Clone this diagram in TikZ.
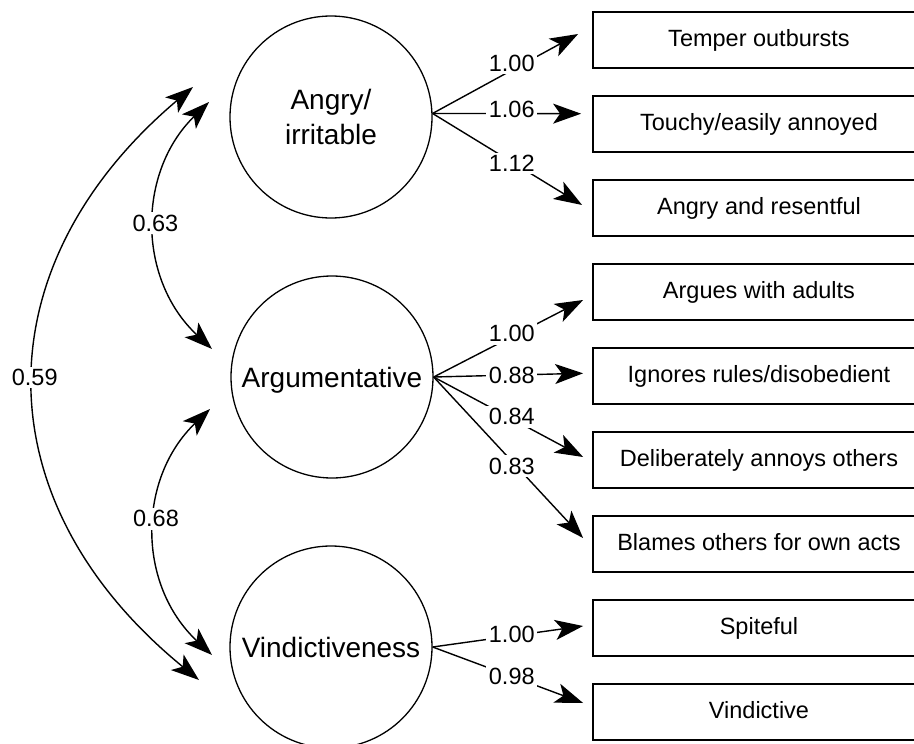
\documentclass[tikz,border=0pt]{standalone}
\usepackage{fontspec}
\setmainfont{Liberation Sans}
\usetikzlibrary{arrows.meta}
\begin{document}
\begin{tikzpicture}[x=1pt,y=-1pt,
  latent/.style={draw, circle, line width=1.3pt, minimum size=202pt, inner sep=0pt, font=\fontsize{28}{35}\selectfont, align=center},
  oneline/.style={text height=20pt, text depth=0pt},
  obs/.style={draw, rectangle, line width=1.8pt, minimum width=332pt, minimum height=56pt, inner sep=0pt, text height=14pt, text depth=0pt, font=\fontsize{23.5}{28}\selectfont},
  arr/.style={line width=1.4pt, -{Stealth[length=28pt,width=20pt,inset=7pt]}},
  biarr/.style={line width=1.4pt, {Stealth[length=28pt,width=20pt,inset=7pt]}-{Stealth[length=28pt,width=20pt,inset=7pt]}},
  lab/.style={fill=white, inner sep=2.5pt, font=\fontsize{23.5}{28}\selectfont}
]
\useasboundingbox (0,0) rectangle (914,744);

% latent factors
\node[latent] (ang) at (331,117) {Angry/\\irritable};
\node[latent, oneline] (arg) at (332,377) {Argumentative};
\node[latent, oneline] (vin) at (331,647) {Vindictiveness};

% indicators
\node[obs] (b1) at (759,39.7)  {Temper outbursts};
\node[obs] (b2) at (759,123.7) {Touchy/easily annoyed};
\node[obs] (b3) at (759,207.7) {Angry and resentful};
\node[obs] (b4) at (759,291.7) {Argues with adults};
\node[obs] (b5) at (759,375.7) {Ignores rules/disobedient};
\node[obs] (b6) at (759,459.7) {Deliberately annoys others};
\node[obs] (b7) at (759,543.7) {Blames others for own acts};
\node[obs] (b8) at (759,627.7) {Spiteful};
\node[obs] (b9) at (759,711.7) {Vindictive};

% loadings
\draw[arr] (ang.2) -- node[lab,pos=0.544,yshift=7pt]{1.00} ([xshift=-14pt,yshift=5.7pt]b1.west);
\draw[arr] (ang.2) -- node[lab,pos=0.533,yshift=4pt]{1.06} ([xshift=-11pt,yshift=10pt]b2.west);
\draw[arr] (ang.2) -- node[lab,pos=0.53,yshift=-1.3pt]{1.12} ([xshift=-10pt,yshift=2.7pt]b3.west);

\draw[arr] (arg.east) -- node[lab,pos=0.523,yshift=3pt]{1.00} ([xshift=-9pt,yshift=-8.3pt]b4.west);
\draw[arr] (arg.east) -- node[lab,pos=0.523]{0.88} ([xshift=-9pt,yshift=2.4pt]b5.west);
\draw[arr] (arg.east) -- node[lab,pos=0.523,yshift=2pt]{0.84} ([xshift=-9pt,yshift=2.7pt]b6.west);
\draw[arr] (arg.east) -- node[lab,pos=0.523,yshift=-5pt]{0.83} ([xshift=-9pt,yshift=5.7pt]b7.west);

\draw[arr] (vin.east) -- node[lab,pos=0.526,yshift=1.5pt]{1.00} ([xshift=-9pt,yshift=1.7pt]b8.west);
\draw[arr] (vin.east) -- node[lab,pos=0.526]{0.98} ([xshift=-9pt,yshift=8.7pt]b9.west);

% correlations
\coordinate (p1) at (209,102);
\coordinate (p2) at (212,349);
\coordinate (p3) at (210,409);
\coordinate (p4) at (212,655);
\coordinate (q1) at (193,87);
\coordinate (q2) at (199,680);

\draw[biarr] (p1) .. controls (137,172) and (137,279) .. node[lab,pos=0.5,yshift=2.5pt]{0.63} (p2);
\draw[biarr] (p3) .. controls (137,479) and (137,585) .. node[lab,pos=0.45]{0.68} (p4);
\draw[biarr] (q1) .. controls (-19,266) and (-19,502) .. node[lab,pos=0.5,yshift=6.5pt]{0.59} (q2);
\end{tikzpicture}
\end{document}
